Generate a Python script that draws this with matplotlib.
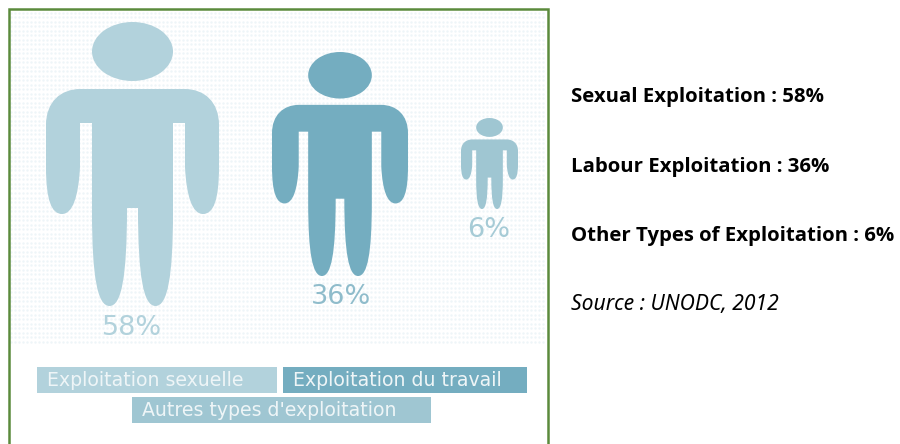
import numpy as np
import matplotlib
matplotlib.use('Agg')
import matplotlib.pyplot as plt
from matplotlib.path import Path
from matplotlib.patches import PathPatch, Ellipse, Rectangle

shares = [58, 36, 6]
person_colors = ['#b2d2dc', '#74adc0', '#9fc6d2']
label_colors = ['#b2d2dc', '#8fbccb', '#a6cbd6']
legend_labels = ['Exploitation sexuelle', 'Exploitation du travail', "Autres types d'exploitation"]
right_labels = ['Sexual Exploitation : 58%', 'Labour Exploitation : 36%', 'Other Types of Exploitation : 6%']
source_label = 'Source : UNODC, 2012'

# left, top, width, height of each person in pixels
boxes = [(46, 22, 173, 284), (272, 52, 136, 224), (461, 118, 57, 91)]
label_pos = [(132, 327.5), (341, 296.5), (489, 229.5)]
legend_boxes = [(37, 367, 240, 26), (283, 367, 244, 26), (132, 397, 299, 26)]
legend_colors = ['#b2d2dc', '#74adc0', '#9fc6d2']


def half_outline():
    # right half of the body, drawn for a person 173 wide and 284 high, dx from the middle
    return [
        (Path.MOVETO, (0, 67)),
        (Path.LINETO, (52, 67)),
        (Path.CURVE4, (72, 67)), (Path.CURVE4, (86.5, 80)), (Path.CURVE4, (86.5, 103)),
        (Path.LINETO, (86.5, 145)),
        (Path.CURVE4, (86.5, 178)), (Path.CURVE4, (81, 192)), (Path.CURVE4, (70.5, 192)),
        (Path.CURVE4, (60, 192)), (Path.CURVE4, (54, 175)), (Path.CURVE4, (52.5, 145)),
        (Path.LINETO, (52.5, 101)),
        (Path.LINETO, (40.5, 101)),
        (Path.LINETO, (40.5, 190)),
        (Path.CURVE4, (40.5, 255)), (Path.CURVE4, (35, 284)), (Path.CURVE4, (23, 284)),
        (Path.CURVE4, (11, 284)), (Path.CURVE4, (5.5, 255)), (Path.CURVE4, (5.5, 186)),
        (Path.LINETO, (0, 186)),
    ]


def person_path(left, top, w, h):
    half = half_outline()
    sx, sy = w / 173, h / 284
    cx = left + w / 2
    codes, verts = [], []
    for c, (dx, y) in half:
        codes.append(c)
        verts.append((cx + dx * sx, top + y * sy))
    # back up the left side
    pts = [p for c, p in half]
    cs = [c for c, p in half]
    for i in range(len(pts) - 2, -1, -1):
        dx, y = pts[i]
        codes.append(Path.LINETO if cs[i + 1] == Path.LINETO else Path.CURVE4)
        verts.append((cx - dx * sx, top + y * sy))
    codes.append(Path.CLOSEPOLY)
    verts.append(verts[0])
    return Path(verts, codes)


fig = plt.figure(figsize=(9, 4.44), dpi=100)
ax = fig.add_axes([0, 0, 1, 1])
ax.set_xlim(0, 900)
ax.set_ylim(444, 0)
ax.axis('off')

# faint dotted background
xx, yy = np.meshgrid(np.arange(11, 546, 4), np.arange(13, 346, 4.5))
ax.scatter(xx.ravel(), yy.ravel(), s=3, color='#eef5f8', linewidths=0, zorder=1)

# green frame, no bottom line
ax.plot([8.5, 8.5, 547.5, 547.5], [444, 9.5, 9.5, 444], color='#5b8a3c', lw=1.8,
        solid_joinstyle='miter', zorder=2)

for (left, top, w, h), col in zip(boxes, person_colors):
    ax.add_patch(Ellipse((left + w / 2, top + h * 29.5 / 284), w * 81 / 173, h * 59 / 284,
                         facecolor=col, edgecolor='none', zorder=3))
    ax.add_patch(PathPatch(person_path(left, top, w, h), facecolor=col, edgecolor='none', zorder=3))

for share, (x, y), col in zip(shares, label_pos, label_colors):
    ax.text(x, y, f'{share}%', color=col, fontsize=19.5, family='DejaVu Sans', ha='center', va='center', zorder=4)

for (left, top, w, h), col, lab in zip(legend_boxes, legend_colors, legend_labels):
    ax.add_patch(Rectangle((left, top), w, h, facecolor=col, edgecolor='none', zorder=3))
    ax.text(left + 10, top + 13, lab, color='#eef5f7', fontsize=13.6, family='DejaVu Sans', ha='left', va='center', zorder=4)

for y, lab in zip([96.5, 166.5, 235.5], right_labels):
    ax.text(571, y, lab, color='black', fontsize=14.7, family='Open Sans', weight='bold', ha='left', va='center')
ax.text(571, 304, source_label, color='black', fontsize=15.2, family='Noto Sans', style='italic', ha='left', va='center')

fig.savefig('out.png', dpi=100)
